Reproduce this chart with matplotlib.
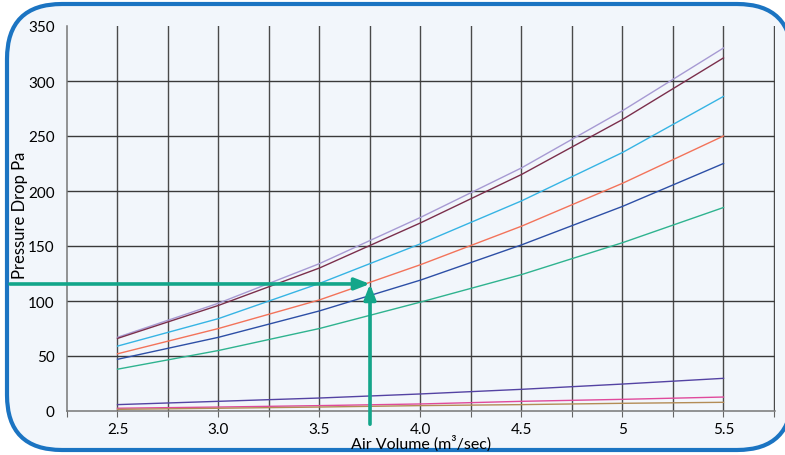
import numpy as np
import matplotlib
matplotlib.use("Agg")
import matplotlib.pyplot as plt
from matplotlib.patches import FancyBboxPatch

plt.rcParams["font.family"] = ["Lato", "DejaVu Sans"]

# air volume (m3/sec) and pressure drop (Pa) per curve
air_volume = [2.5, 3.0, 3.5, 4.0, 4.5, 5.0, 5.5]
curve_lavender = [67, 98, 134, 176, 221, 273, 330]
curve_maroon = [66, 96, 130, 171, 215, 265, 321]
curve_skyblue = [59, 84, 116, 152, 191, 235, 286]
curve_orange = [52, 75, 101, 133, 168, 207, 250]
curve_navy = [47, 67, 91, 119, 151, 186, 225]
curve_teal = [38, 55, 75, 99, 124, 153, 185]
curve_purple = [5.8, 8.8, 11.8, 15.5, 19.7, 24.5, 29.7]
curve_pink = [2.5, 3.6, 4.9, 6.4, 8.8, 10.6, 12.7]
curve_tan = [1.5, 2.5, 3.6, 4.9, 5.8, 7.0, 7.9]

curves = [
    (curve_lavender, "#a79ad3"),
    (curve_maroon, "#7b2f4c"),
    (curve_skyblue, "#36b4e4"),
    (curve_orange, "#f3735a"),
    (curve_navy, "#2d4fa6"),
    (curve_teal, "#2fb38f"),
    (curve_purple, "#5443a3"),
    (curve_pink, "#e04a9c"),
    (curve_tan, "#b38c56"),
]

x_ticks = [2.25, 2.5, 2.75, 3.0, 3.25, 3.5, 3.75, 4.0, 4.25, 4.5, 4.75, 5.0, 5.25, 5.5, 5.75]
x_labels = ["", "2.5", "", "3.0", "", "3.5", "", "4.0", "", "4.5", "", "5", "", "5.5", ""]
y_ticks = [0, 50, 100, 150, 200, 250, 300, 350]

# reading example: 3.75 m3/sec -> ~115 Pa
read_x = 3.75
read_y = 115.5

bg = "#f2f6fb"
green = "#13a68a"

fig = plt.figure(figsize=(7.85, 4.56), dpi=100)
fig.patch.set_facecolor("white")

frame = FancyBboxPatch(
    (7 / 785, 5 / 456), 785 / 785, 446 / 456,
    boxstyle="round,pad=0,rounding_size=0.07",
    transform=fig.transFigure, facecolor=bg, edgecolor="#1b74c2",
    linewidth=3, zorder=-10, mutation_aspect=785 / 456,
)
fig.patches.append(frame)

ax = fig.add_axes([67 / 785, 44 / 456, 708 / 785, 385 / 456])
ax.set_zorder(1)
ax.patch.set_alpha(0)

ax.set_xlim(2.25, 5.755)
ax.set_ylim(0, 350)

for v in x_ticks[1:]:
    ax.axvline(v, color="#4a4a4a", linewidth=1.0, zorder=1)
for v in y_ticks[1:-1]:
    ax.axhline(v, color="#3a3a3a", linewidth=1.0, zorder=1)

for vals, col in curves:
    ax.plot(air_volume, vals, color=col, linewidth=1.0, zorder=3)

ax.set_xticks(x_ticks)
ax.set_xticklabels(x_labels)
ax.set_yticks(y_ticks)
ax.tick_params(axis="x", length=4, color="#666666", labelsize=11, pad=4)
ax.tick_params(axis="y", length=0, labelsize=11, pad=9)

for s in ("top", "right"):
    ax.spines[s].set_visible(False)
for s in ("left", "bottom"):
    ax.spines[s].set_color("#777777")
    ax.spines[s].set_linewidth(1.1)

ax.set_xlabel("Air Volume (m³/sec)", fontsize=11.5, va="center")
ax.xaxis.set_label_coords(0.5, -(444 - 412) / 385)
ax.set_ylabel("Pressure Drop Pa", fontsize=12, va="center")
ax.yaxis.set_label_coords(-(67 - 20) / 708, 0.51)

arrow = dict(arrowstyle="-|>,head_length=0.9,head_width=0.35", color=green,
             lw=2.6, shrinkA=0, shrinkB=0)
# horizontal arrow starts out at the left edge of the frame
ax.annotate("", xy=(read_x, read_y), xycoords="data",
            xytext=(10 / 785, (456 - 285) / 456), textcoords="figure fraction",
            arrowprops=arrow, annotation_clip=False, zorder=5)
ax.annotate("", xy=(read_x, read_y), xycoords="data",
            xytext=(read_x, -12), textcoords="data",
            arrowprops=arrow, annotation_clip=False, zorder=5)

fig.savefig("out.png", dpi=100, facecolor="white")
